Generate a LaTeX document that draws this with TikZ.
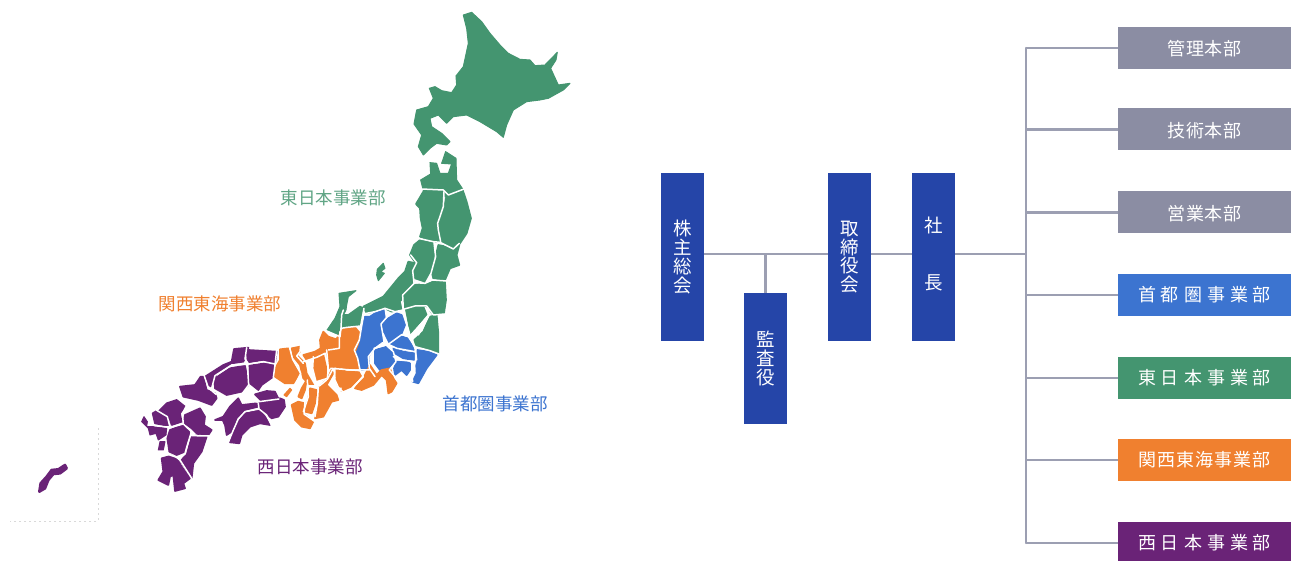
\documentclass[tikz,border=0pt]{standalone}
\usepackage{fontspec}
\setmainfont{Noto Sans CJK JP}
\usetikzlibrary{calc}
\definecolor{mgreen}{HTML}{449570}
\definecolor{morange}{HTML}{F0802F}
\definecolor{mblue}{HTML}{3C74D0}
\definecolor{mpurple}{HTML}{6A2377}
\definecolor{navy}{HTML}{2545A8}
\definecolor{greybox}{HTML}{8B8DA3}
\definecolor{linegrey}{HTML}{9C9FB2}
\newcommand{\gp}{\kern5pt }
\tikzset{
 x=1pt,y=-1pt,
 gr/.style={fill=mgreen,draw=mgreen,line width=1.7pt,line join=round},
 og/.style={fill=morange,draw=morange,line width=1.7pt,line join=round},
 bl/.style={fill=mblue,draw=mblue,line width=1.7pt,line join=round},
 pu/.style={fill=mpurple,draw=mpurple,line width=1.7pt,line join=round},
 sep/.style={draw=white,line width=1.5pt,line join=round,line cap=round},
 tallbox/.style={fill=navy,text=white,inner sep=0pt,minimum width=43pt,align=center,font=\fontsize{18.5}{18.8}\selectfont},
 deptbox/.style={text=white,inner sep=0pt,minimum width=173pt,minimum height=42pt,font=\fontsize{18}{20}\selectfont},
 greydept/.style={deptbox,fill=greybox,text height=16.8pt,text depth=.8pt},
 link/.style={draw=linegrey,line width=2.1pt},
 maplabel/.style={inner sep=0pt,font=\fontsize{17.5}{20}\selectfont}
}
\begin{document}
\begin{tikzpicture}
\useasboundingbox (0,0) rectangle (1294,561);
\clip (0,0) rectangle (1294,561);
\fill[white] (0,0) rectangle (1294,561);
% map, zoom 1 frame
\begin{scope}[shift={(300,0)},scale=.3333]
\path[gr,line width=1pt] (490,45)--(515,37)--(545,65)--(570,100)--(600,135)--(625,160)--(660,178)--(690,180)--(705,197)--(735,195)--(772,157)--(768,180)--(752,205)--(775,255)--(810,250)--(790,270)--(745,295)--(720,300)--(680,305)--(640,330)--(620,375)--(610,412)--(590,395)--(540,365)--(500,345)--(460,350)--(440,370)--(415,345)--(390,355)--(395,380)--(425,400)--(450,425)--(440,435)--(410,430)--(390,445)--(370,465)--(355,440)--(365,405)--(342,372)--(350,330)--(385,320)--(400,295)--(388,265)--(405,260)--(425,272)--(455,278)--(470,255)--(468,228)--(490,200)--(505,130)--(500,85)--cycle;
\path[gr,line width=1pt] (437,455)--(468,475)--(470,540)--(490,570)--(470,573)--(435,590)--(425,575)--(370,572)--(362,540)--(392,522)--(390,488)--(410,490)--(420,520)--(445,520)--(455,492)--(425,490)--cycle;
\end{scope}
% zoom 2 frame
\begin{scope}[shift={(270,180)},scale=.3333]
\path[gr] (460,35)--(520,35)--(520,70)--(510,115)--(505,145)--(510,185)--(490,185)--(450,170)--(458,145)--(452,115)--(450,85)--(438,72)--cycle;
\path[gr] (530,45)--(578,30)--(590,65)--(603,115)--(590,160)--(570,190)--(555,205)--(510,185)--(505,145)--(520,90)--cycle;
\path[gr] (450,180)--(490,190)--(492,225)--(485,270)--(465,305)--(435,295)--(428,270)--(438,250)--(420,225)--(432,195)--cycle;
\path[gr] (505,195)--(530,200)--(555,210)--(568,195)--(560,225)--(568,255)--(540,265)--(525,300)--(490,295)--(485,275)--(498,225)--cycle;
\path[gr] (438,250)--(428,275)--(430,305)--(395,345)--(400,385)--(365,395)--(345,385)--(290,400)--(280,380)--(340,350)--(385,295)--(405,275)--(415,245)--cycle;
\path[gr] (432,315)--(465,310)--(490,305)--(525,305)--(528,360)--(522,400)--(490,405)--(470,378)--(435,378)--(405,385)--(398,350)--cycle;
\path[gr,line width=1pt] (340,250)--(345,265)--(332,275)--(343,280)--(325,302)--(320,285)--(322,268)--cycle;
\path[gr,line width=1pt] (207,340)--(258,332)--(235,350)--(230,375)--(228,390)--(215,415)--(210,445)--(205,465)--(170,452)--(195,415)--(210,380)--cycle;
\end{scope}
% zoom 3 frame
\begin{scope}[shift={(260,300)},scale=.3333]
\path[gr] (248,45)--(265,45)--(300,20)--(310,25)--(300,75)--(260,80)--(245,85)--cycle;
\path[gr] (435,15)--(490,20)--(500,45)--(450,100)--(445,65)--cycle;
\path[gr] (510,50)--(530,45)--(535,100)--(535,160)--(510,150)--(470,140)--(463,120)--(490,95)--cycle;
% blue
\path[bl] (315,50)--(330,50)--(345,40)--(372,30)--(375,55)--(362,75)--(365,95)--(368,125)--(345,140)--(325,170)--(328,205)--(305,210)--(295,175)--(285,150)--(300,120)--(305,90)--cycle;
\path[bl] (370,70)--(385,55)--(410,40)--(425,45)--(435,75)--(425,100)--(385,130)--(378,115)--(375,100)--(360,88)--cycle;
\path[bl] (388,130)--(420,108)--(445,115)--(462,150)--(440,150)--(410,140)--cycle;
\path[bl] (400,145)--(430,155)--(465,160)--(462,180)--(430,175)--(405,160)--cycle;
\path[bl] (345,150)--(380,140)--(398,155)--(405,185)--(385,205)--(360,210)--(345,190)--cycle;
\path[bl] (410,185)--(440,185)--(450,190)--(450,210)--(440,225)--(425,210)--(405,225)--(402,205)--cycle;
\path[bl] (472,150)--(505,155)--(530,165)--(500,205)--(475,250)--(458,245)--(470,220)--(468,180)--cycle;
% orange
\path[og] (205,150)--(250,88)--(285,82)--(300,100)--(295,130)--(285,155)--(295,205)--(260,205)--(225,200)--(210,205)--(200,155)--cycle;
\path[og] (180,120)--(190,95)--(205,110)--(235,120)--(235,140)--(205,150)--(170,170)--(140,180)--(130,165)--(165,155)--(182,145)--cycle;
\path[og] (165,170)--(190,165)--(198,200)--(200,230)--(185,240)--(170,240)--(160,205)--cycle;
\path[og] (95,145)--(120,140)--(120,155)--(110,165)--(135,190)--(140,220)--(160,255)--(150,255)--(130,235)--(120,195)--(100,170)--cycle;
\path[og] (60,148)--(85,145)--(95,175)--(120,220)--(100,250)--(75,250)--(45,230)--(40,215)--(60,180)--cycle;
\path[og] (140,240)--(135,270)--(125,295)--(115,290)--(125,265)--cycle;
\path[og] (150,265)--(170,270)--(165,310)--(155,340)--(135,335)--(145,295)--cycle;
\path[og] (215,210)--(220,220)--(200,255)--(230,285)--(235,300)--(215,305)--(190,350)--(165,355)--(175,310)--(178,260)--(200,240)--cycle;
\path[og] (95,315)--(115,305)--(135,310)--(130,340)--(160,365)--(150,385)--(125,380)--(105,360)--cycle;
\path[og,line width=1pt] (90,265)--(95,270)--(80,290)--(72,285)--cycle;
\path[og] (230,205)--(260,215)--(300,215)--(305,225)--(270,265)--(245,275)--(250,260)--(235,260)--(228,240)--cycle;
\path[og] (330,195)--(350,225)--(365,210)--(390,205)--(400,235)--(410,250)--(395,275)--(385,280)--(380,240)--(365,225)--(340,255)--(305,270)--(285,265)--(310,235)--cycle;
\end{scope}
% zoom 4 frame
\begin{scope}[shift={(130,335)},scale=.3333]
\path[pu] (225,125)--(280,90)--(305,80)--(312,42)--(355,38)--(345,70)--(340,80)--(305,85)--(260,115)--(245,155)--(235,150)--cycle;
\path[pu] (355,45)--(440,50)--(435,85)--(400,75)--(358,82)--(352,72)--cycle;
\path[pu] (358,92)--(405,85)--(430,90)--(430,125)--(395,150)--(385,165)--(360,145)--cycle;
\path[pu] (255,130)--(300,100)--(345,92)--(352,125)--(355,150)--(335,170)--(290,180)--(255,160)--cycle;
\path[pu] (150,155)--(195,150)--(212,125)--(220,125)--(230,165)--(255,175)--(260,190)--(245,210)--(205,195)--(160,185)--cycle;
\path[pu] (375,178)--(410,168)--(435,170)--(445,190)--(395,198)--cycle;
\path[pu] (385,205)--(450,190)--(462,195)--(465,215)--(445,245)--(425,250)--(408,235)--(390,220)--cycle;
\path[pu] (255,255)--(280,245)--(300,215)--(325,190)--(335,210)--(380,205)--(385,215)--(345,225)--(320,250)--(305,290)--(290,300)--(285,270)--(278,255)--cycle;
\path[pu] (345,235)--(390,225)--(405,245)--(420,270)--(390,265)--(360,275)--(335,300)--(328,325)--(300,322)--(310,290)--(325,260)--cycle;
\path[pu] (110,205)--(140,195)--(165,215)--(150,235)--(155,260)--(125,270)--(120,255)--(105,235)--(85,230)--cycle;
\path[pu] (165,240)--(210,220)--(225,245)--(222,270)--(245,285)--(235,300)--(200,295)--(185,280)--(160,262)--cycle;
\path[pu] (68,235)--(80,228)--(110,245)--(118,270)--(100,270)--(75,265)--cycle;
\path[pu,line width=1pt] (35,260)--(42,245)--(52,260)--(50,275)--(75,275)--(110,280)--(108,300)--(85,315)--(78,295)--(60,300)--(55,280)--cycle;
\path[pu,line width=1pt] (90,320)--(105,320)--(100,345)--(85,345)--cycle;
\path[pu] (120,285)--(160,270)--(180,290)--(170,325)--(165,350)--(140,360)--(118,350)--(112,310)--cycle;
\path[pu] (185,305)--(205,300)--(230,305)--(215,350)--(190,385)--(185,430)--(150,375)--(170,360)--cycle;
\path[pu] (95,370)--(125,362)--(145,378)--(155,395)--(180,430)--(160,445)--(165,460)--(135,468)--(130,420)--(120,425)--(115,450)--(85,435)--(100,410)--cycle;
% white prefecture borders
\draw[sep] (350,38)--(345,72)--(355,87)--(400,80)--(435,87);
\draw[sep] (352,88)--(305,90)--(255,122)--(245,160);
\draw[sep] (352,88)--(356,150)--(338,174);
\draw[sep] (440,45)--(435,90)--(430,128);
\draw[sep] (222,120)--(235,158)--(258,178);
\draw[sep] (380,201)--(447,192);
\draw[sep] (385,205)--(387,222)--(345,230)--(325,252)--(308,290)--(295,322);
\draw[sep] (387,222)--(410,240)--(425,272);
\draw[sep] (168,215)--(157,237)--(160,265);
\draw[sep] (118,278)--(160,267)--(182,288)--(185,302)--(240,303);
\draw[sep] (183,295)--(172,330)--(165,355)--(148,375);
\draw[sep] (105,355)--(140,367)--(150,375)--(187,433);
\draw[sep] (80,226)--(112,245)--(120,277);
\draw[sep] (72,272)--(120,277);
\end{scope}
% zoom 2 frame borders
\begin{scope}[shift={(270,180)},scale=.3333]
\draw[sep] (455,27)--(520,30)--(535,45)--(582,27);
\draw[sep] (522,35)--(520,80)--(503,130)--(505,150)--(512,185);
\draw[sep] (445,175)--(490,185)--(510,187)--(550,207)--(568,190);
\draw[sep] (492,187)--(497,230)--(483,280)--(468,307);
\draw[sep] (422,225)--(440,248)--(428,272)--(432,308);
\draw[sep] (398,345)--(435,308)--(465,310)--(487,300)--(530,303);
\draw[sep] (400,388)--(435,378)--(470,378)--(490,405)--(525,402);
\draw[sep] (398,345)--(400,388);
\draw[sep] (472,380)--(478,405)--(445,465);
\end{scope}
% zoom 3 frame borders
\begin{scope}[shift={(260,300)},scale=.3333]
\draw[sep] (198,92)--(240,110)--(243,85)--(262,82)--(302,78)--(312,25);
\draw[sep] (243,85)--(245,45)--(250,30);
\draw[sep] (310,42)--(345,35)--(375,25)--(405,35)--(430,30)--(425,5);
\draw[sep] (375,25)--(380,52)--(363,72)--(368,100)--(372,125)--(385,135);
\draw[sep] (430,35)--(440,70)--(450,105);
\draw[sep] (505,45)--(455,105);
\draw[sep] (368,100)--(385,133)--(425,104)--(445,110)--(465,140)--(470,180);
\draw[sep] (385,133)--(410,145)--(465,155);
\draw[sep] (342,145)--(378,135)--(400,155)--(408,185)--(388,210)--(405,230);
\draw[sep] (400,170)--(420,180)--(465,185);
\draw[sep] (465,140)--(510,152)--(537,162);
\draw[sep] (467,145)--(467,185)--(455,215)--(458,245);
\draw[sep] (310,50)--(303,90)--(298,120)--(283,150)--(293,175)--(300,210)--(328,210);
\draw[sep] (368,128)--(345,145)--(325,170)--(328,205)--(345,230);
\draw[sep] (240,95)--(238,115)--(238,145)--(205,150);
\draw[sep] (200,150)--(205,205)--(202,235)--(170,245);
\draw[sep] (130,185)--(170,172)--(195,160);
\draw[sep] (160,170)--(158,205)--(168,245);
\draw[sep] (88,140)--(98,178)--(122,220)--(105,255);
\draw[sep] (122,135)--(120,155)--(110,168)--(130,190);
\draw[sep] (212,205)--(300,212)--(310,230)--(275,265)--(240,280);
\draw[sep] (222,205)--(225,240)--(235,262)--(248,275);
\draw[sep] (202,238)--(218,208);
\draw[sep] (145,258)--(178,258)--(200,240);
\draw[sep] (142,240)--(145,290)--(130,335);
\draw[sep] (175,262)--(172,310)--(165,350);
\draw[sep] (135,305)--(132,342)--(165,365);
\end{scope}
% Okinawa
\begin{scope}[shift={(0,420)},scale=.3333]
\path[pu,line width=2.6pt] (195,135)--(200,145)--(180,160)--(160,162)--(145,180)--(135,205)--(118,215)--(122,190)--(140,170)--(155,150)--(175,148)--cycle;
\end{scope}
\draw[black!15,line width=.8pt,dash pattern=on 2pt off 3pt] (98,428)--(98,521)--(10,521);
% map labels
\node[maplabel,text=mgreen!85!white] (lE) at (333,198) {東日本事業部};
\node[maplabel,text=morange] (lK) at (220,304) {関西東海事業部};
\node[maplabel,text=mblue] (lS) at (495,404) {首都圏事業部};
\node[maplabel,text=mpurple] (lW) at (310,467) {西日本事業部};
% chart
\node[tallbox,minimum height=168pt] (kabu) at (682.5,257) {株\\主\\総\\会};
\node[tallbox,minimum height=131pt] (kansa) at (765.5,358.5) {監\\査\\役};
\node[tallbox,minimum height=168pt] (tori) at (849.5,257) {取\\締\\役\\会};
\node[tallbox,minimum height=168pt] (sha) at (933.5,257) {};
\node[tallbox,fill=none,minimum width=0pt] (shatxt) at (933.5,254) {社\\[38pt]長};
\node[greydept] (d1) at (1204.5,48) {管\kern.8pt 理\kern.8pt 本\kern.8pt 部};
\node[greydept] (d2) at (1204.5,129.5) {技\kern.8pt 術\kern.8pt 本\kern.8pt 部};
\node[greydept] (d3) at (1204.5,212.5) {営\kern.8pt 業\kern.8pt 本\kern.8pt 部};
\node[deptbox,fill=mblue] (d4) at (1204.5,295) {首\gp 都\gp 圏\gp 事\gp 業\gp 部};
\node[deptbox,fill=mgreen] (d5) at (1204.5,378) {東\gp 日\gp 本\gp 事\gp 業\gp 部};
\node[deptbox,fill=morange] (d6) at (1204.5,460) {関\kern1pt 西\kern1pt 東\kern1pt 海\kern1pt 事\kern1pt 業\kern1pt 部};
\node[deptbox,fill=mpurple] (d7) at (1204.5,543) {西\gp 日\gp 本\gp 事\gp 業\gp 部};
\coordinate (j1) at (765.5,254);
\coordinate (bus) at (1026,254);
\draw[link] (kabu.east|-j1)--(tori.west|-j1);
\draw[link] (j1)--(kansa.north);
\draw[link] (tori.east|-j1)--(sha.west|-j1);
\draw[link] (sha.east|-j1)--(bus);
\draw[link,line cap=round] (bus|-d1.west)--(bus|-d7.west);
\foreach \d in {d1,d2,d3,d4,d5,d6,d7} \draw[link] (bus|-\d.west)--(\d.west);
\end{tikzpicture}
\end{document}
